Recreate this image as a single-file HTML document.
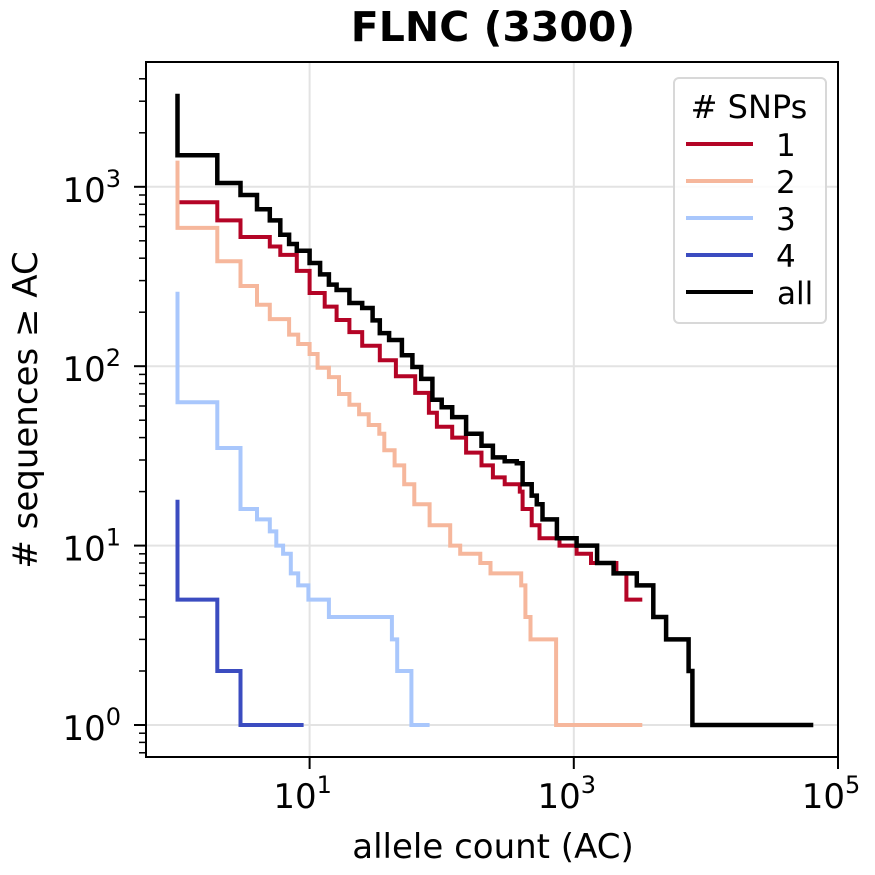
<!DOCTYPE html>
<html><head><meta charset="utf-8"><style>
body{margin:0;background:#fff;}
svg{display:block;font-family:"DejaVu Sans","Liberation Sans",sans-serif;}
</style></head><body>
<svg id="chart" width="875" height="875" viewBox="0 0 875 875" xmlns="http://www.w3.org/2000/svg">
<text x="493" y="41" font-size="41" font-weight="bold" text-anchor="middle">FLNC (3300)</text>
<text x="493" y="858" font-size="34" text-anchor="middle">allele count (AC)</text>
<text transform="translate(37,410) rotate(-90)" font-size="34" text-anchor="middle"># sequences ≥ AC</text>
<g id="grid"></g>
<g id="series"></g>
<rect x="146" y="62" width="692" height="695" fill="none" stroke="#000" stroke-width="2"/>
<g id="ticks"></g>
<g id="legend">
<rect x="674" y="78" width="152" height="245" rx="5" fill="#fff" fill-opacity="0.85" stroke="#d8d8d8" stroke-width="2"/>
<text x="749" y="118" font-size="32" text-anchor="middle"># SNPs</text>
</g>
</svg>
<script>
const NS="http://www.w3.org/2000/svg";
const seriesNames=["1","2","3","4","all"];
const seriesColors=["#b40426","#f6b79c","#a9c7fc","#3b4cc0","#000000"];
const acRed=[1,1,2,3,5,6,8,10,13,16,20,25,34,45,63,80,92,120,153,200,244,300,390,410,480,550,780,1050,1350,2100,2500,3300];
const cntRed=[820,820,650,525,465,417,340,256,215,181,155,130,108,88,71,55,46,40,33,28,24,22,20,16,13,11,10,9,8,7,5,5];
const acSalmon=[1,1,2,3,4,5,7,8.2,10,11.5,14,16.7,20,23.7,28,33.7,36.8,44,52,62,81,116,138,196,234,400,430,470,735,3300];
const cntSalmon=[1400,590,385,280,220,183,150,133,117,98,87,70,61,54,47,42,34,28,22,17,13,10,9,8,7,6,4,3,1,1];
const acLight=[1,1,2,3,3,4,5,5.6,6.3,7.2,8.2,9.8,14,42,46,59,81];
const cntLight=[260,63,35,21,16,14,12,10,9,7,6,5,4,3,2,1,1];
const acDark=[1,1,2,3,9];
const cntDark=[18,5,2,1,1];
const acAll=[1,1,2,3,4,5,6,7,8,10,12,14,16,20,25,30,34,40,50,60,70,85,100,120,153,200,244,300,370,410,480,525,580,745,1050,1500,2000,3000,4000,5000,7400,7900,65000];
const cntAll=[3300,1500,1050,900,750,650,540,480,440,376,325,285,266,225,211,180,153,140,115,99,85,65,59,52,42,36,31,29.5,28.8,22,19,17,14,11,10,8,7,6,4,3,2,1,1];
const xTickVals=[10,1000,100000];
const xTickLabels=["1","3","5"];
const yTickVals=[1,10,100,1000];
const yTickLabels=["0","1","2","3"];

function xs(v){return 177.5+132.1*Math.log10(v);}
function ys(v){return 725-179.4*Math.log10(v);}

const grid=document.getElementById('grid');
const ser=document.getElementById('series');
const ticks=document.getElementById('ticks');
function mk(tag,attrs,parent){const e=document.createElementNS(NS,tag);for(const k in attrs)e.setAttribute(k,attrs[k]);parent.appendChild(e);return e;}

xTickVals.forEach(v=>{const l=mk('line',{x1:xs(v),x2:xs(v),y1:62,y2:757,stroke:'#e3e3e3','stroke-width':2},grid);

});
yTickVals.forEach(v=>{const l=mk('line',{x1:146,x2:838,y1:ys(v),y2:ys(v),stroke:'#e3e3e3','stroke-width':2},grid);

});

const allAC=[acRed,acSalmon,acLight,acDark,acAll];
const allCnt=[cntRed,cntSalmon,cntLight,cntDark,cntAll];
[0,1,2,3,4].forEach(i=>{
  const ac=allAC[i],c=allCnt[i];
  let d='M'+xs(ac[0]).toFixed(1)+','+ys(c[0]).toFixed(1);
  for(let k=1;k<ac.length;k++){d+=' H'+xs(ac[k]).toFixed(1)+' V'+ys(c[k]).toFixed(1);}
  const p=mk('path',{d:d,fill:'none',stroke:seriesColors[i],'stroke-width':i===4?4.5:4},ser);
  
  
});

xTickVals.forEach((v,i)=>{
  mk('line',{x1:xs(v),x2:xs(v),y1:757,y2:769,stroke:'#000','stroke-width':2},ticks);
  const t=mk('text',{x:xs(v)-7,y:808,'font-size':34,'text-anchor':'middle'},ticks);
  
  
  t.textContent='10';
  const s=mk('tspan',{dy:-15,'font-size':24},t);s.textContent=xTickLabels[i];
});
yTickVals.forEach((v,i)=>{
  mk('line',{x1:134,x2:146,y1:ys(v),y2:ys(v),stroke:'#000','stroke-width':2},ticks);
  const t=mk('text',{x:121,y:ys(v)+15,'font-size':34,'text-anchor':'end'},ticks);
  
  
  t.textContent='10';
  const s=mk('tspan',{dy:-15,'font-size':24},t);s.textContent=yTickLabels[i];
});
for(let dec=0;dec<4;dec++){for(let m=2;m<=9;m++){const v=m*Math.pow(10,dec);const y=ys(v);if(y<62)continue;
  mk('line',{x1:139,x2:146,y1:y,y2:y,stroke:'#000','stroke-width':1.5},ticks);}}
for(let m=7;m<=9;m++){const y=ys(m/10);if(y<757)mk('line',{x1:139,x2:146,y1:y,y2:y,stroke:'#000','stroke-width':1.5},ticks);}

const lg=document.getElementById('legend');
seriesNames.forEach((n,i)=>{
  const y=144+37*i;
  const l=mk('line',{x1:686,x2:753,y1:y,y2:y,stroke:seriesColors[i],'stroke-width':4},lg);
  
  
  const t=mk('text',{x:n==='all'?777:776,y:y+12,'font-size':31},lg);
  
  
  t.textContent=n;
});
</script>
</body></html>
